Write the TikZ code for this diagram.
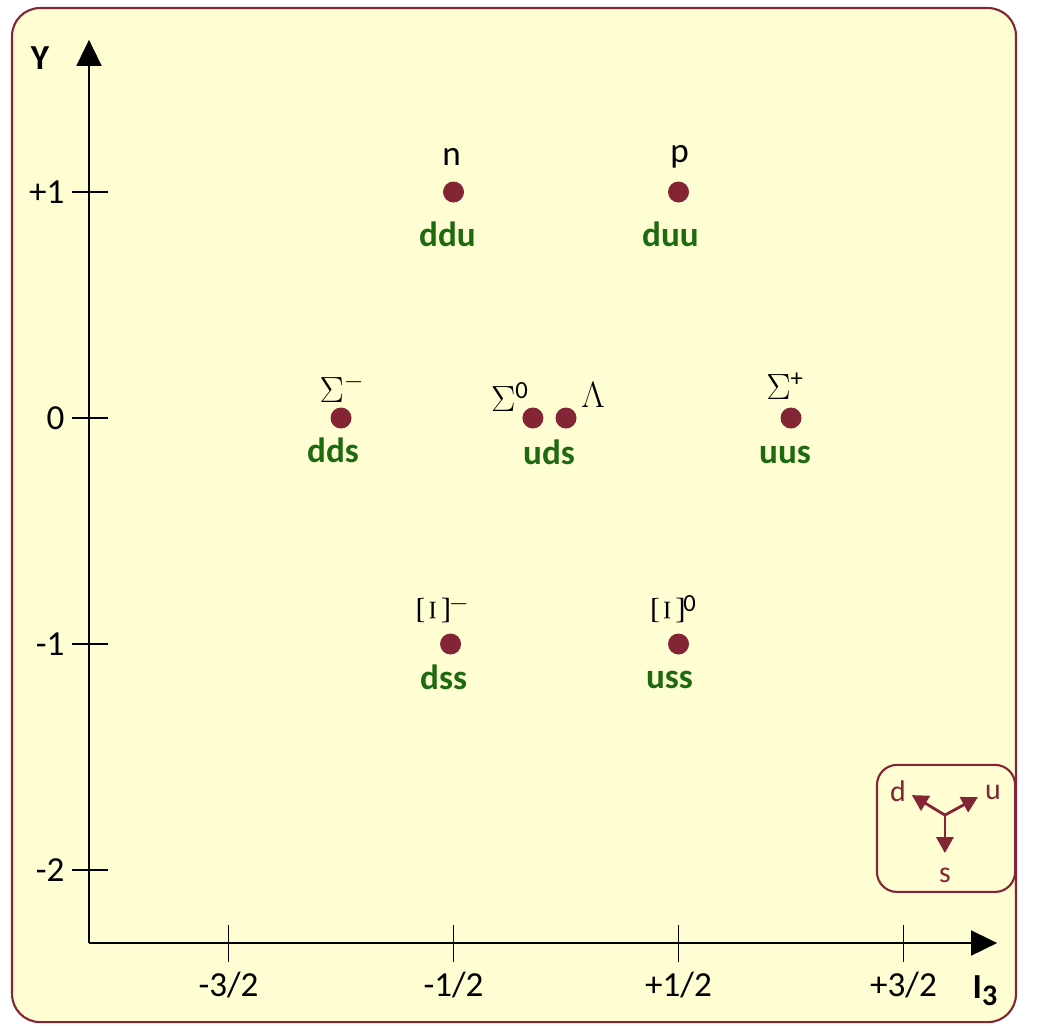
\documentclass[tikz,border=0pt]{standalone}
\usepackage{fontspec}
\setmainfont{Carlito}
\usepackage{graphicx}
\usetikzlibrary{arrows.meta}
\definecolor{wine}{HTML}{832535}
\definecolor{leaf}{HTML}{1E6A10}
\definecolor{cream}{HTML}{FFFDD2}
\newcommand{\turnedxi}{\rotatebox{90}{\scalebox{1.25}{$\Xi$}}}

\begin{document}
\begin{tikzpicture}[
    x=4.5cm, y=4.52cm,
    font=\fontsize{20}{24}\selectfont,
    dot/.style={circle, fill=wine, minimum size=4.2mm, inner sep=0pt},
    quark/.style={text=leaf, font=\fontsize{20}{24}\selectfont\bfseries, inner sep=0pt},
    hadron/.style={inner sep=0pt},
    axis/.style={-{Triangle[length=5.2mm, width=5mm]}, line width=1.1pt},
    tick/.style={line width=1.1pt},
    flav/.style={-{Triangle[length=3.2mm, width=3.4mm]}, line width=1.6pt, wine},
    flavlab/.style={inner sep=0pt, text=wine, font=\fontsize{17}{20}\selectfont}
  ]
  \useasboundingbox (-2.5156,1.8496) rectangle (2.16,-2.686);
  \draw[wine, line width=1.2pt, fill=cream, rounded corners=5.6mm] (-2.462,1.814) rectangle (2.0,-2.673);

  % axes
  \coordinate (orig) at (-2.12,-2.323);
  \coordinate (ytip) at (-2.12,1.673);
  \coordinate (xtip) at (1.916,-2.323);
  \draw[axis] (orig) -- (ytip);
  \draw[axis] (orig) -- (xtip);
  \node[hadron, font=\fontsize{20}{24}\selectfont\bfseries] (ylab) at (-2.338,1.593) {Y};
  \node[hadron, font=\fontsize{20}{24}\selectfont\bfseries] (xlab) at (1.862,-2.535) {I\raisebox{-1.4mm}{\fontsize{17}{17}\selectfont 3}};

  \foreach \v/\t [count=\i] in {1/+1, 0/0, -1/-1, -2/-2} {
    \coordinate (ya\i) at (-2.196,\v);
    \coordinate (yb\i) at (-2.036,\v);
    \draw[tick] (ya\i) -- (yb\i);
    \node[hadron, anchor=east] (yl\i) at ([xshift=-1.4mm]ya\i) {\t};
  }
  \foreach \v/\t [count=\i] in {-1.5/{-3/2}, -0.5/{-1/2}, 0.5/{+1/2}, 1.5/{+3/2}} {
    \coordinate (xa\i) at (\v,-2.243);
    \coordinate (xb\i) at (\v,-2.407);
    \draw[tick] (xa\i) -- (xb\i);
    \node[hadron] (xl\i) at (\v,-2.509) {\t};
  }

  % baryon octet
  \node[dot] (n)   at (-0.5,1)    {};
  \node[dot] (p)   at (0.5,1)     {};
  \node[dot] (sm)  at (-1,0)      {};
  \node[dot] (sz)  at (-0.147,0)  {};
  \node[dot] (lam) at (0,0)       {};
  \node[dot] (sp)  at (1,0)       {};
  \node[dot] (xm)  at (-0.513,-1) {};
  \node[dot] (xz)  at (0.5,-1)    {};

  \node[hadron] (nl)   at ([shift={(-0.4mm,7mm)}]n)    {n};
  \node[quark]  (nq)   at ([shift={(-1.2mm,-8.4mm)}]n) {ddu};
  \node[hadron] (pl)   at ([shift={(0.2mm,7mm)}]p)     {p};
  \node[quark]  (pq)   at ([shift={(-1.6mm,-8.4mm)}]p) {duu};
  \node[hadron] (sml)  at ([shift={(0.2mm,6mm)}]sm)    {$\Sigma^{-}$};
  \node[quark]  (smq)  at ([shift={(-1.6mm,-6.4mm)}]sm) {dds};
  \node[hadron] (szl)  at ([shift={(-4.6mm,4.2mm)}]sz) {$\Sigma$\textsuperscript{0}};
  \node[hadron] (laml) at ([shift={(5.4mm,4.6mm)}]lam) {$\Lambda$};
  \node[quark]  (lamq) at ([shift={(-3.4mm,-6.8mm)}]lam) {uds};
  \node[hadron] (spl)  at ([shift={(-1.2mm,6.4mm)}]sp) {$\Sigma$\textsuperscript{+}};
  \node[quark]  (spq)  at ([shift={(-1.2mm,-7.4mm)}]sp) {uus};
  \node[hadron] (xml)  at ([shift={(-1.4mm,6.8mm)}]xm) {\turnedxi$^{-}$};
  \node[quark]  (xmq)  at ([shift={(-1.4mm,-6.6mm)}]xm) {dss};
  \node[hadron] (xzl)  at ([shift={(-0.8mm,6.8mm)}]xz)  {\turnedxi\textsuperscript{0}};
  \node[quark]  (xzq)  at ([shift={(-1.8mm,-7.2mm)}]xz) {uss};

  % flavour legend
  \draw[wine, line width=1.2pt, rounded corners=4mm] (1.382,-1.535) rectangle (1.996,-2.097);
  \coordinate (lc) at (1.684,-1.757);
  \coordinate (ld) at ([shift={(-6.6mm,4mm)}]lc);
  \coordinate (lu) at ([shift={(6.6mm,3.6mm)}]lc);
  \coordinate (ls) at ([shift={(0mm,-7.6mm)}]lc);
  \draw[flav] (lc) -- (ld);
  \draw[flav] (lc) -- (lu);
  \draw[flav] (lc) -- (ls);
  \node[flavlab] (dl) at ([shift={(-9.4mm,4.8mm)}]lc) {d};
  \node[flavlab] (ul) at ([shift={(9.6mm,4.6mm)}]lc) {u};
  \node[flavlab] (sl) at ([shift={(0mm,-12mm)}]lc) {s};
\end{tikzpicture}
\end{document}
